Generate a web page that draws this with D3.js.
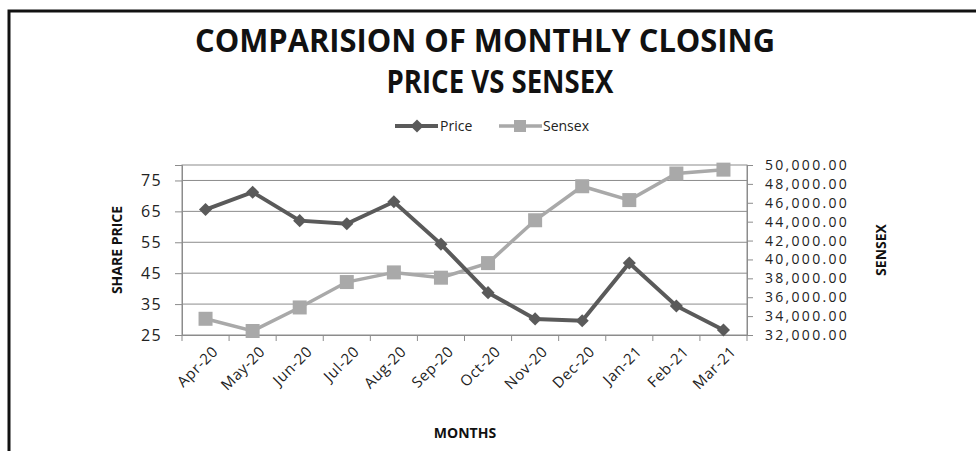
<!DOCTYPE html>
<html lang="en">
<head>
    <meta charset="UTF-8">
    <title>Price vs Sensex</title>
    <script src="https://d3js.org/d3.v7.min.js"></script>
    <style>
        body { margin: 0; background: #fff; }
        text { font-family: "Open Sans", sans-serif; }
    </style>
</head>
<body>
<svg width="976" height="451"></svg>

<script>
    // data
    const months = ["Apr-20", "May-20", "Jun-20", "Jul-20", "Aug-20", "Sep-20",
                    "Oct-20", "Nov-20", "Dec-20", "Jan-21", "Feb-21", "Mar-21"];
    const price = [65.6, 71.2, 62.0, 61.0, 68.1, 54.4, 38.7, 30.2, 29.6, 48.3, 34.4, 26.6];
    const sensex = [33717, 32424, 34916, 37607, 38628, 38068, 39614, 44150, 47751, 46286, 49100, 49509];
    const priceTicks = [25, 35, 45, 55, 65, 75];
    const sensexTicks = d3.range(32000, 50001, 2000);

    const svg = d3.select("svg");
    const m = {left: 182, right: 747, top: 165, bottom: 335};

    // frame (left and top edges only)
    svg.append("path")
        .attr("d", "M9,451 V11 H976")
        .attr("fill", "none")
        .attr("stroke", "#111")
        .attr("stroke-width", 3);

    // scales
    const x = d3.scaleBand().domain(months).range([m.left, m.right]);
    const yL = d3.scaleLinear().domain([25, 80]).range([m.bottom, m.top]);
    const yR = d3.scaleLinear().domain([32000, 50000]).range([m.bottom, m.top]);
    const cx = d => x(d) + x.bandwidth() / 2;

    // gridlines
    svg.append("g")
        .selectAll("line")
        .data(priceTicks.slice(1))
        .join("line")
        .attr("x1", m.left).attr("x2", m.right)
        .attr("y1", d => yL(d)).attr("y2", d => yL(d))
        .attr("stroke", "#8c8c8c").attr("stroke-width", 1);

    // plot border
    svg.append("rect")
        .attr("x", m.left).attr("y", m.top)
        .attr("width", m.right - m.left).attr("height", m.bottom - m.top)
        .attr("fill", "none").attr("stroke", "#8c8c8c").attr("stroke-width", 1);

    // left axis
    const axL = svg.append("g")
        .attr("transform", `translate(${m.left},0)`)
        .call(d3.axisLeft(yL).tickValues(priceTicks).tickSize(7).tickPadding(13));
    // right axis
    const axR = svg.append("g")
        .attr("transform", `translate(${m.right},0)`)
        .call(d3.axisRight(yR).tickValues(sensexTicks).tickSize(6).tickPadding(12)
            .tickFormat(d3.format(",.2f")));
    // bottom axis, ticks between categories
    const axB = svg.append("g")
        .attr("transform", `translate(0,${m.bottom})`)
        .call(d3.axisBottom(x).tickSize(0).tickPadding(0));
    axB.selectAll(".tick text").remove();
    axB.selectAll(".boundary")
        .data(d3.range(months.length + 1))
        .join("line")
        .attr("x1", i => m.left + i * x.step()).attr("x2", i => m.left + i * x.step())
        .attr("y1", 0).attr("y2", 6)
        .attr("stroke", "#8c8c8c");

    [axL, axR, axB].forEach(a => {
        a.select(".domain").attr("stroke", "#8c8c8c");
        a.selectAll(".tick line").attr("stroke", "#8c8c8c");
        a.selectAll("text")
            .attr("font-family", "'Open Sans', sans-serif")
            .attr("fill", "#222");
    });
    axL.selectAll("text").attr("font-size", 16).attr("letter-spacing", "1.3px");
    axR.selectAll("text").attr("font-size", 14).attr("letter-spacing", "2.3px");

    // month labels rotated
    svg.append("g")
        .selectAll("text")
        .data(months)
        .join("text")
        .attr("transform", d => `translate(${cx(d) + 6},${m.bottom + 10}) rotate(-45)`)
        .attr("text-anchor", "end")
        .attr("dy", "0.7em")
        .attr("font-size", 15)
        .attr("letter-spacing", "0.6px")
        .attr("fill", "#222")
        .text(d => d);

    // lines
    const lineL = d3.line().x((d, i) => cx(months[i])).y(d => yL(d));
    const lineR = d3.line().x((d, i) => cx(months[i])).y(d => yR(d));
    const cPrice = "#5a5a5a", cSensex = "#a9a9a9";

    svg.append("path").datum(sensex)
        .attr("d", lineR).attr("fill", "none")
        .attr("stroke", cSensex).attr("stroke-width", 3.5);
    svg.append("g").selectAll("rect")
        .data(sensex)
        .join("rect")
        .attr("x", (d, i) => cx(months[i]) - 7)
        .attr("y", d => yR(d) - 7)
        .attr("width", 14).attr("height", 14)
        .attr("fill", cSensex);

    svg.append("path").datum(price)
        .attr("d", lineL).attr("fill", "none")
        .attr("stroke", cPrice).attr("stroke-width", 4);
    const diamond = d3.symbol().type(d3.symbolDiamond2).size(110);
    svg.append("g").selectAll("path")
        .data(price)
        .join("path")
        .attr("transform", (d, i) => `translate(${cx(months[i])},${yL(d)})`)
        .attr("d", diamond)
        .attr("fill", cPrice);

    // title
    const title = svg.append("g")
        .attr("font-weight", "bold")
        .attr("font-size", 33)
        .attr("fill", "#111")
        .attr("text-anchor", "middle");
    title.append("text").attr("x", 485).attr("y", 52)
        .attr("textLength", 580).attr("lengthAdjust", "spacingAndGlyphs")
        .text("COMPARISION OF MONTHLY CLOSING");
    title.append("text").attr("x", 500).attr("y", 93)
        .attr("textLength", 227).attr("lengthAdjust", "spacingAndGlyphs")
        .text("PRICE VS SENSEX");

    // legend
    const leg = svg.append("g");
    leg.append("line").attr("x1", 395).attr("x2", 438).attr("y1", 126).attr("y2", 126)
        .attr("stroke", cPrice).attr("stroke-width", 4);
    leg.append("path").attr("transform", "translate(417,126)").attr("d", diamond).attr("fill", cPrice);
    leg.append("text").attr("x", 440).attr("y", 131).attr("font-size", 14).attr("fill", "#222").text("Price");
    leg.append("line").attr("x1", 499).attr("x2", 542).attr("y1", 126).attr("y2", 126)
        .attr("stroke", cSensex).attr("stroke-width", 3.5);
    leg.append("rect").attr("x", 514).attr("y", 120).attr("width", 12).attr("height", 12).attr("fill", cSensex);
    leg.append("text").attr("x", 543).attr("y", 131).attr("font-size", 14).attr("fill", "#222").text("Sensex");

    // axis titles
    svg.append("text")
        .attr("transform", "translate(122,250) rotate(-90)")
        .attr("text-anchor", "middle")
        .attr("font-weight", "bold").attr("font-size", 14).attr("fill", "#111")
        .text("SHARE PRICE");
    svg.append("text")
        .attr("transform", "translate(886,250) rotate(-90)")
        .attr("text-anchor", "middle")
        .attr("font-weight", "bold").attr("font-size", 14).attr("fill", "#111")
        .text("SENSEX");
    svg.append("text")
        .attr("x", 465).attr("y", 438)
        .attr("text-anchor", "middle")
        .attr("font-weight", "bold").attr("font-size", 14).attr("fill", "#111")
        .text("MONTHS");
</script>
</body>
</html>
